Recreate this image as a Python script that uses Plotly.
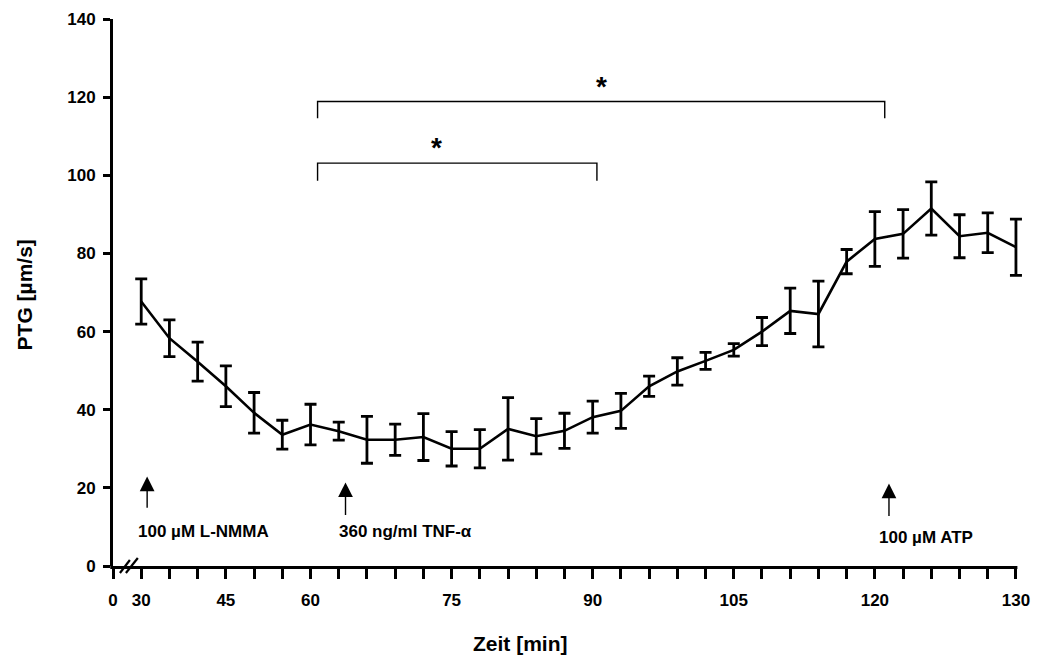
import plotly.graph_objects as go

# ---- data ----
times = [30, 35, 40, 45, 50, 55, 60, 63, 66, 69, 72, 75, 78, 81, 84, 87, 90,
         93, 96, 99, 102, 105, 108, 111, 114, 117, 120, 122, 124, 126, 128, 130]
ptg_mean = [67.7, 58.3, 52.3, 46.0, 39.2, 33.6, 36.2, 34.5, 32.3, 32.3,
            33.0, 30.0, 30.0, 35.1, 33.2, 34.6, 38.1, 39.7, 46.0, 49.8,
            52.5, 55.3, 60.0, 65.3, 64.5, 77.9, 83.7, 85.0, 91.5, 84.4,
            85.3, 81.6]
ptg_err = [5.8, 4.7, 5.0, 5.2, 5.2, 3.7, 5.2, 2.3, 6.0, 4.0,
           6.0, 4.4, 4.9, 8.0, 4.5, 4.5, 4.1, 4.5, 2.6, 3.5,
           2.2, 1.6, 3.6, 5.8, 8.4, 3.1, 7.0, 6.2, 6.8, 5.5,
           5.1, 7.2]
labeled_times = [30, 45, 60, 75, 90, 105, 120, 130]
y_ticks = [0, 20, 40, 60, 80, 100, 120, 140]

# position on the (equally spaced) time axis
pos = list(range(len(times)))
x_min, x_max = -1, len(times) - 1
x_pad = 0.25   # room so the last error bar is not clipped

FONT = "Liberation Sans"

fig = go.Figure()
fig.add_trace(go.Scatter(
    x=pos, y=ptg_mean, mode="lines",
    line=dict(color="black", width=2.6),
    error_y=dict(type="data", array=ptg_err, visible=True,
                 color="black", thickness=2.8, width=6),
    cliponaxis=False,
    showlegend=False, hoverinfo="skip",
))

# ticks: one at the "0" position (before the axis break) and one per sample
tickvals = [x_min] + pos
ticktext = ["0"] + [str(t) if t in labeled_times else "" for t in times]

fig.update_layout(
    width=1040, height=657,
    margin=dict(l=113, r=10, t=19, b=91),
    paper_bgcolor="white", plot_bgcolor="white",
    font=dict(family=FONT, color="black"),
    xaxis=dict(
        range=[x_min, x_max + x_pad], showgrid=False, zeroline=False,
        showline=False,
        ticks="outside", ticklen=12, tickwidth=3, tickcolor="black",
        tickvals=tickvals, ticktext=ticktext, ticklabelstandoff=7,
        tickfont=dict(family=FONT, size=17, weight="bold", color="black"),
    ),
    yaxis=dict(
        range=[0, 140], showgrid=False, zeroline=False,
        showline=True, linecolor="black", linewidth=3,
        ticks="outside", ticklen=7, tickwidth=3, tickcolor="black",
        tickvals=y_ticks, ticklabelstandoff=4,
        tickfont=dict(family=FONT, size=17, weight="bold", color="black"),
    ),
)

# x axis line ending at the last sample tick
span = (x_max + x_pad) - x_min
fig.add_shape(type="line", xref="paper", yref="paper",
              x0=-0.003, x1=(x_max - x_min) / span + 0.0016,
              y0=-0.0027, y1=-0.0027,
              line=dict(color="black", width=3))

annotations = []
# axis titles
annotations.append(dict(xref="paper", yref="paper", x=0.448, y=-0.141,
                        text="<b>Zeit [min]</b>", showarrow=False,
                        font=dict(size=21, family=FONT),
                        xanchor="center", yanchor="middle"))
annotations.append(dict(xref="paper", yref="paper", x=-0.097, y=0.496,
                        text="<b>PTG [µm/s]</b>", showarrow=False,
                        textangle=-90, font=dict(size=21, family=FONT),
                        xanchor="center", yanchor="middle"))

# treatment arrows
arrows = [(0.21, 22.9, 14.5), (7.24, 21.4, 12.7), (26.5, 21.1, 12.4)]
for xa, ytip, ytail in arrows:
    annotations.append(dict(x=xa, y=ytip, ax=xa, ay=ytail, xref="x", yref="y",
                            axref="x", ayref="y", text="", showarrow=True,
                            arrowhead=2, arrowsize=2.1, arrowwidth=1.4,
                            arrowcolor="black"))
labels = [(2.2, 8.8, "100 µM L-NMMA"), (9.35, 8.8, "360 ng/ml TNF-α"),
          (27.82, 7.3, "100 µM ATP")]
for xl, yl, txt in labels:
    annotations.append(dict(x=xl, y=yl, xref="x", yref="y", text="<b>" + txt + "</b>",
                            showarrow=False, font=dict(size=17, family=FONT),
                            xanchor="center", yanchor="middle"))

# significance stars
annotations.append(dict(x=10.45, y=107.0, xref="x", yref="y", text="<b>*</b>",
                        showarrow=False, font=dict(size=28, family=FONT)))
annotations.append(dict(x=16.3, y=122.6, xref="x", yref="y", text="<b>*</b>",
                        showarrow=False, font=dict(size=28, family=FONT)))
fig.update_layout(annotations=annotations)

# significance brackets
brackets = [(6.25, 16.15, 103.1, 98.6), (6.25, 26.35, 118.9, 114.6)]
for x0, x1, ytop, yend in brackets:
    fig.add_shape(type="path", xref="x", yref="y",
                  path=f"M {x0},{yend} L {x0},{ytop} L {x1},{ytop} L {x1},{yend}",
                  line=dict(color="black", width=1.4))

# axis break marks (//) in pixel-like paper fractions
plot_w = 1040 - 113 - 10
plot_h = 657 - 19 - 91
def px(xp):
    return (xp - 113) / plot_w
def py(yp):
    return (657 - 91 - yp) / plot_h
for (a0, b0, a1, b1) in [(120, 573, 130, 560), (126, 573, 138, 558)]:
    fig.add_shape(type="line", xref="paper", yref="paper",
                  x0=px(a0), y0=py(b0), x1=px(a1), y1=py(b1),
                  line=dict(color="black", width=2.2))

fig.write_html("out.html")
